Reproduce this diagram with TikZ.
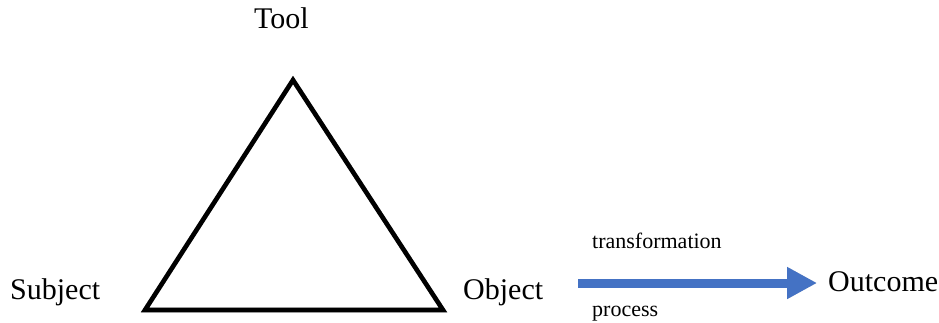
\documentclass[tikz,border=0pt]{standalone}
\usepackage{fontspec}
\setmainfont{Liberation Serif}
\usetikzlibrary{arrows.meta}
\definecolor{arrowblue}{HTML}{4472C4}
\tikzset{
  biglabel/.style={anchor=base west, inner sep=0pt, font=\fontsize{30}{34}\selectfont},
  smalllabel/.style={anchor=base west, inner sep=0pt, font=\fontsize{22}{26}\selectfont},
  triline/.style={line width=4.6pt, line join=miter},
  shadowline/.style={line width=4.6pt, line join=miter, black, opacity=0.18},
  bluearrow/.style={line width=9pt, arrowblue, -{Triangle[length=30pt, width=30pt]}},
}
\begin{document}
\begin{tikzpicture}[x=1pt,y=-1pt]
\useasboundingbox (0,0) rectangle (939,322);
\fill[white] (0,0) rectangle (939,322);
% triangle vertices
\coordinate (T) at (293,80);
\coordinate (L) at (145,310);
\coordinate (R) at (443,310);
\draw[shadowline, shift={(2,3)}] (T) -- (L) -- (R) -- cycle;
\draw[triline] (T) -- (L) -- (R) -- cycle;
% labels
\node[biglabel] (tool) at (254,28) {Tool};
\node[biglabel] (subject) at (10,299) {Subject};
\node[biglabel] (object) at (463,299) {Object};
\node[biglabel] (outcome) at (828,291) {Outcome};
\node[smalllabel] (transf) at (592,248) {transformation};
\node[smalllabel] (process) at (592,316) {process};
% arrow
\coordinate (as) at (578,283);
\coordinate (ae) at (817,283);
\draw[line width=9pt, black, opacity=0.15, -{Triangle[length=30pt, width=30pt]}, shift={(2,3)}] (as) -- (ae);
\draw[bluearrow] (as) -- (ae);
\end{tikzpicture}
\end{document}
